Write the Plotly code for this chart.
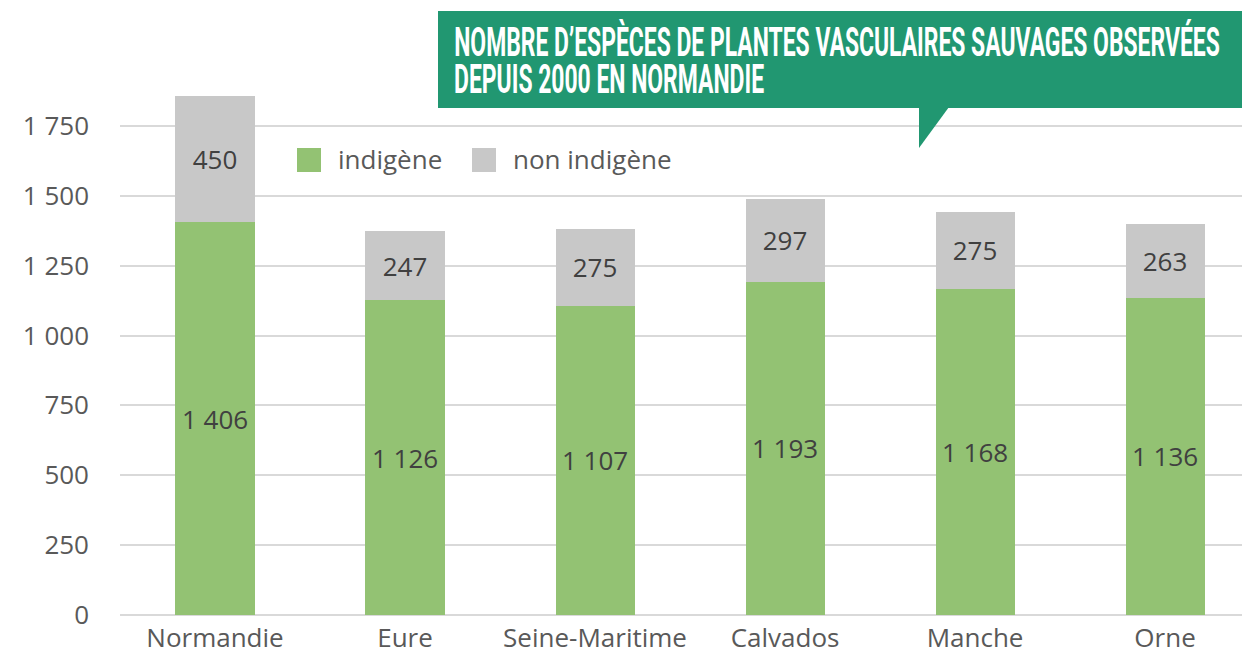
import plotly.graph_objects as go

categories = ["Normandie", "Eure", "Seine-Maritime", "Calvados", "Manche", "Orne"]
indigene = [1406, 1126, 1107, 1193, 1168, 1136]
non_indigene = [450, 247, 275, 297, 275, 263]
series_names = ["indigène", "non indigène"]
title_lines = ["NOMBRE D’ESPÈCES DE PLANTES VASCULAIRES SAUVAGES OBSERVÉES",
               "DEPUIS 2000 EN NORMANDIE"]

GREEN = "#93c273"
GREY = "#c8c8c8"
TITLE_BG = "#219771"
FONT = "Open Sans, DejaVu Sans, sans-serif"
FS = 26

W, H = 1242, 657
L, R, T, B = 120, 0, 84, 42
pw, ph = W - L - R, H - T - B

def px(x):
    return (x - L) / pw

def py(y):
    return (H - B - y) / ph

fig = go.Figure()
for vals, color, name in [(indigene, GREEN, series_names[0]), (non_indigene, GREY, series_names[1])]:
    fig.add_trace(go.Bar(
        x=categories, y=vals, name=name, marker=dict(color=color, line=dict(width=0)),
        texttemplate="%{y:,d}", textposition="inside", insidetextanchor="middle",
        constraintext="none", textangle=0,
        textfont=dict(family=FONT, size=FS, color="#404040"),
        showlegend=False, hoverinfo="skip",
    ))

shapes = []
annotations = []
# Legend (manual)
leg_items = [(297, GREEN, series_names[0], 336), (472, GREY, series_names[1], 511)]
for x0, col, name, tx in leg_items:
    shapes.append(dict(type="rect", xref="paper", yref="paper",
                       x0=px(x0), x1=px(x0 + 24), y0=py(172), y1=py(148),
                       fillcolor=col, line=dict(width=0)))
    annotations.append(dict(xref="paper", yref="paper", x=px(tx), y=py(159),
                            text=name, showarrow=False, xanchor="left", yanchor="middle",
                            font=dict(family=FONT, size=FS, color="#595959")))

# Title box with pointer
shapes.append(dict(type="rect", xref="paper", yref="paper",
                   x0=px(438), x1=px(1242), y0=py(108), y1=py(11),
                   fillcolor=TITLE_BG, line=dict(width=0), layer="above"))
shapes.append(dict(type="path", xref="paper", yref="paper",
                   path=f"M {px(919)} {py(107)} L {px(949)} {py(107)} L {px(919)} {py(148)} Z",
                   fillcolor=TITLE_BG, line=dict(width=0), layer="above"))
for i, line in enumerate(title_lines):
    annotations.append(dict(xref="paper", yref="paper", x=px(452), y=py(42 + 38 * i),
                            text=line, showarrow=False, xanchor="left", yanchor="middle",
                            font=dict(family="Roboto, Open Sans, sans-serif", weight=700,
                                      size=40, color="white")))

fig.update_layout(
    width=W, height=H,
    margin=dict(l=L, r=R, t=T, b=B, pad=0, autoexpand=False),
    barmode="stack", bargap=0.584,
    plot_bgcolor="white", paper_bgcolor="white",
    separators=", ",
    font=dict(family=FONT, size=FS, color="#595959"),
    xaxis=dict(range=[-0.5, 5.405], showgrid=False, showline=False, ticks="",
               ticklabelstandoff=5, automargin=False,
               tickfont=dict(family=FONT, size=FS, color="#595959")),
    yaxis=dict(range=[0, 1900], dtick=250, tickformat=",d", showgrid=True,
               gridcolor="#d9d9d9", gridwidth=2, zeroline=True, zerolinecolor="#d9d9d9",
               zerolinewidth=2, showline=False, ticks="", ticklabelstandoff=30,
               automargin=False,
               tickfont=dict(family=FONT, size=FS, color="#595959")),
    shapes=shapes, annotations=annotations,
)

post = """
document.body.style.margin = '0';
document.documentElement.style.margin = '0';
var gd = document.getElementById('{plot_id}');
var l1 = null, l2 = null;
gd.querySelectorAll('text.annotation-text').forEach(function(t){
  var s = t.textContent;
  if (s.indexOf('NOMBRE') === 0) l1 = t;
  else if (s.indexOf('DEPUIS') === 0) l2 = t;
});
if (l1) {
  var sc = 766 / l1.getBBox().width;
  [l1, l2].forEach(function(t){
    if (!t) return;
    var b = t.getBBox();
    t.setAttribute('transform', 'matrix(' + sc + ',0,0,1,' + (b.x * (1 - sc)) + ',0)');
  });
}
"""

fig.write_html("out.html", post_script=post, config={"displayModeBar": False})
